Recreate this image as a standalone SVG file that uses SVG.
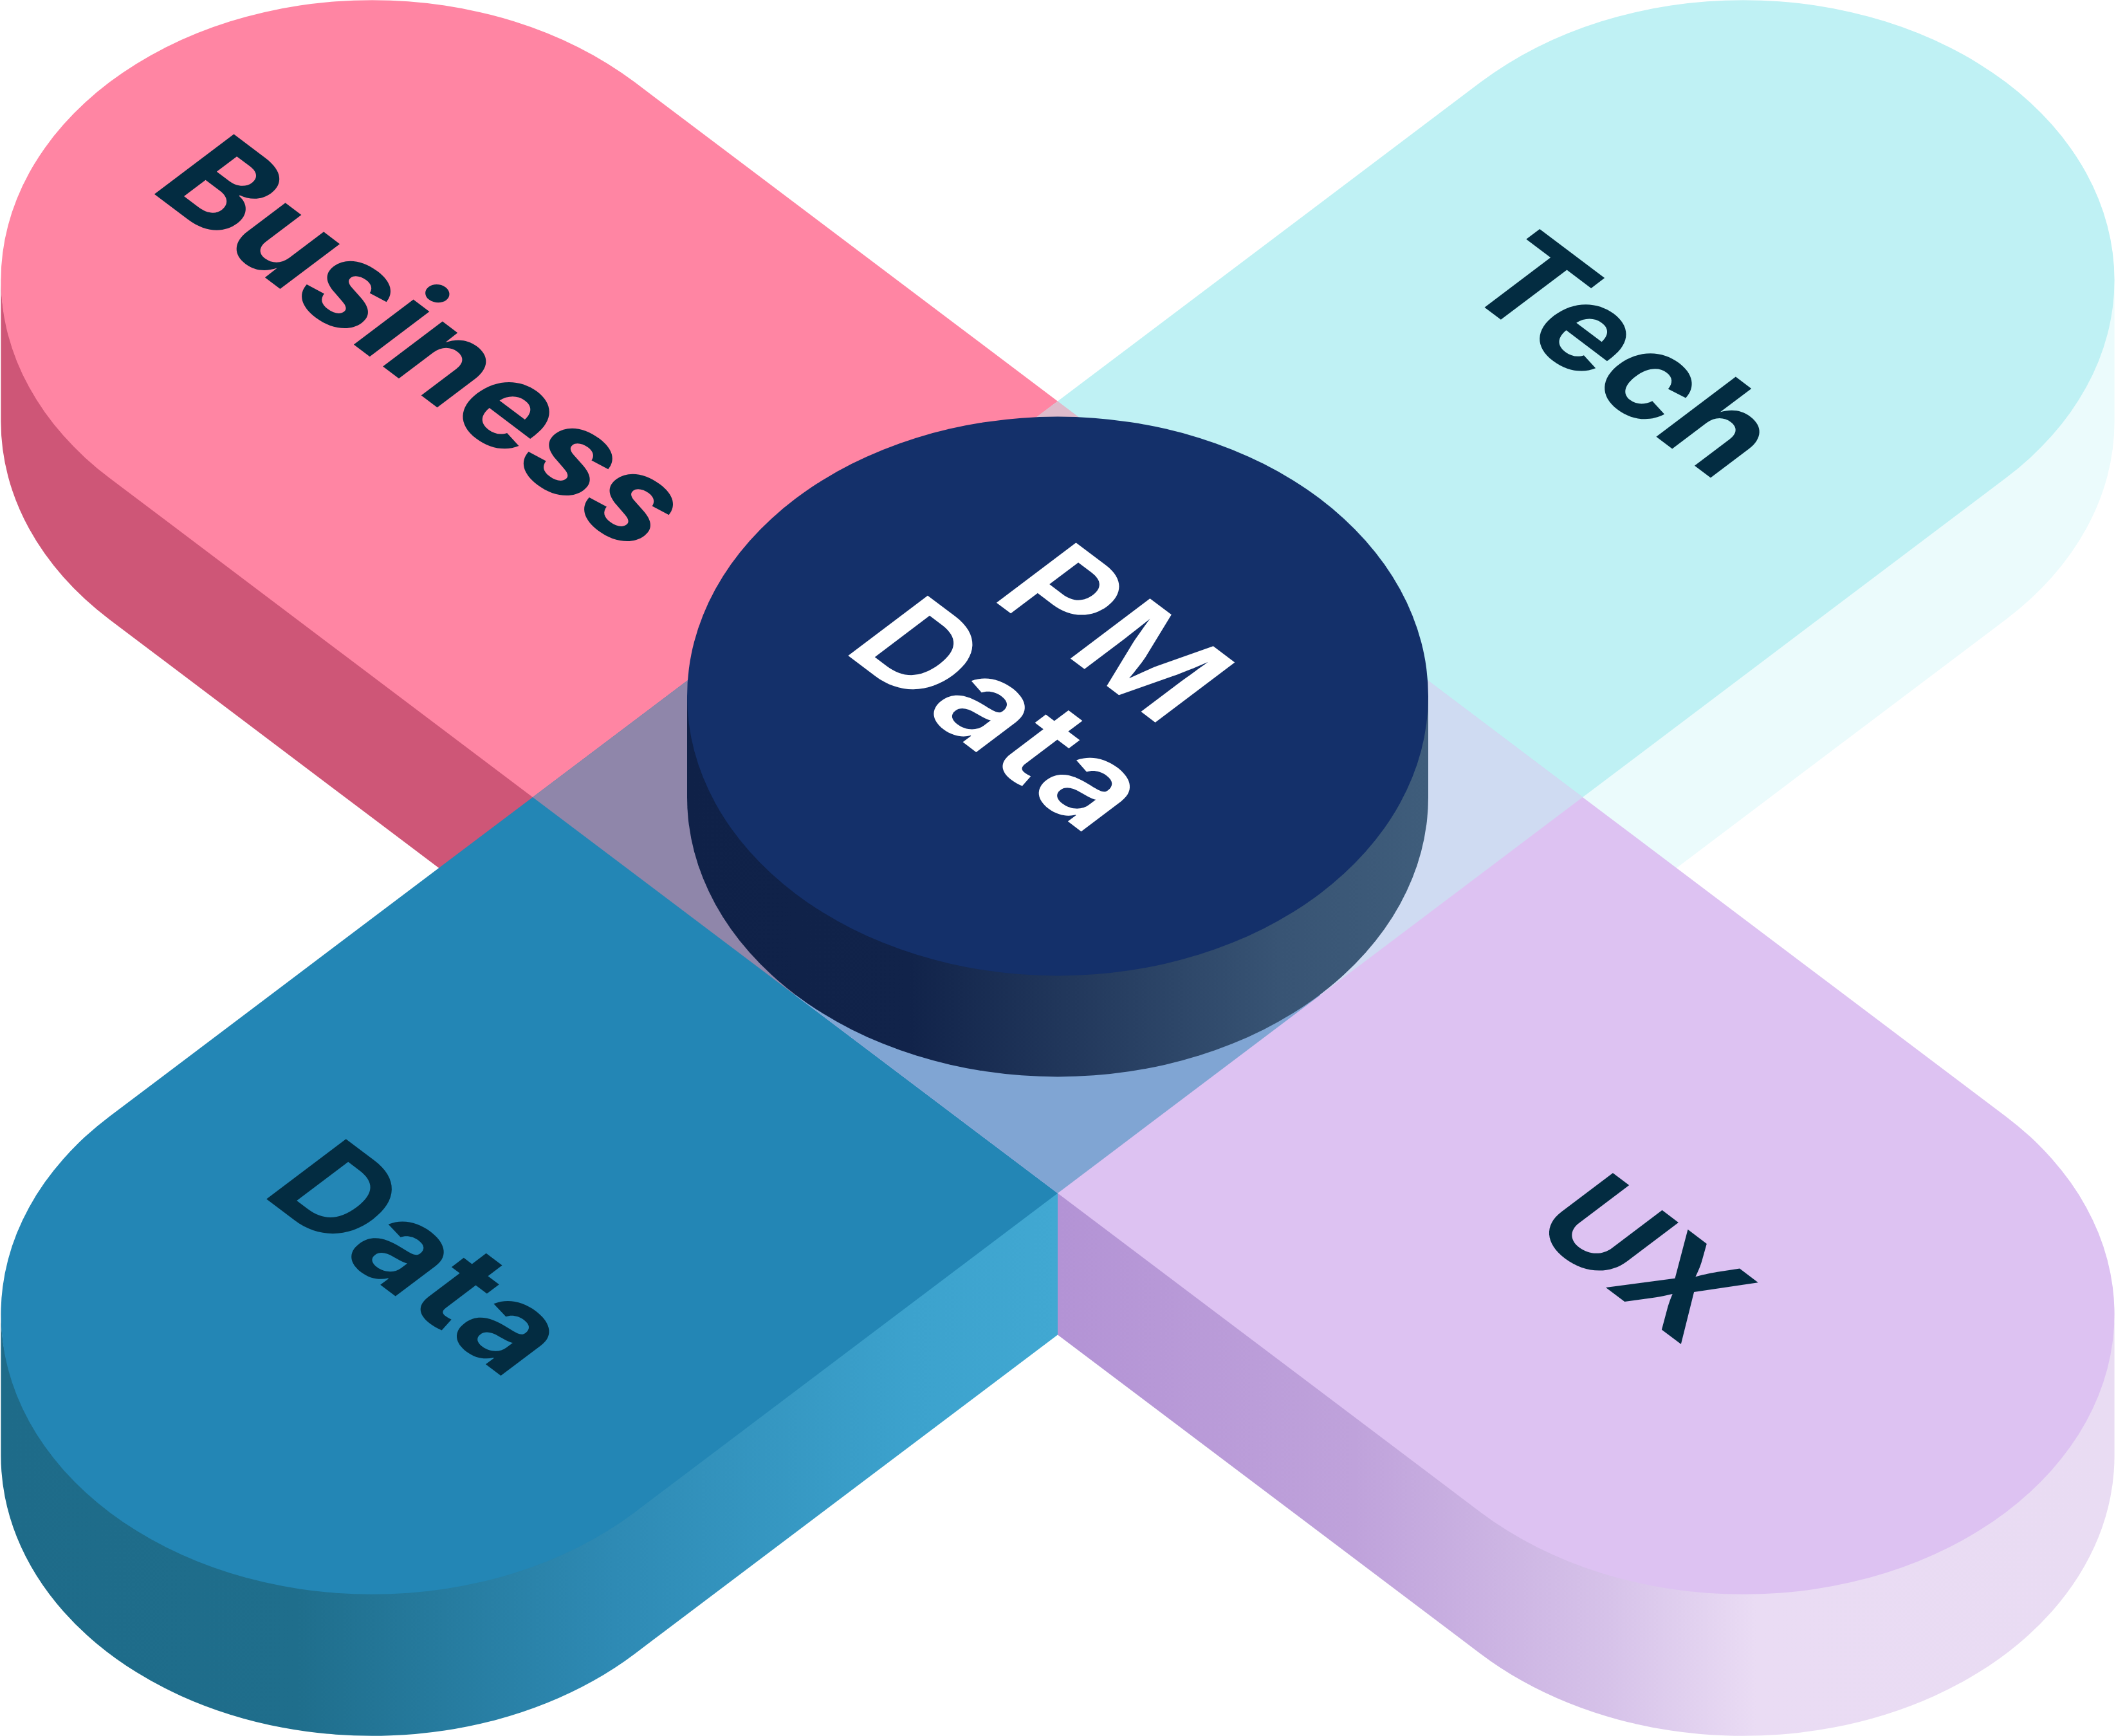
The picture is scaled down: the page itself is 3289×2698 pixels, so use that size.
<svg xmlns="http://www.w3.org/2000/svg" width="3289" height="2698" viewBox="0 0 3289 2698">
  <defs>
    <linearGradient id="gData" gradientUnits="userSpaceOnUse" x1="0" y1="0" x2="1644" y2="0">
      <stop offset="0" stop-color="#1E6B89"/>
      <stop offset="0.28" stop-color="#1F6E8C"/>
      <stop offset="0.58" stop-color="#2E8AB4"/>
      <stop offset="0.86" stop-color="#3CA2CD"/>
      <stop offset="1" stop-color="#41A8D2"/>
    </linearGradient>
    <linearGradient id="gUX" gradientUnits="userSpaceOnUse" x1="1644" y1="0" x2="3289" y2="0">
      <stop offset="0" stop-color="#B393D5"/>
      <stop offset="0.28" stop-color="#BFA2DB"/>
      <stop offset="0.52" stop-color="#D6C2E9"/>
      <stop offset="0.66" stop-color="#EADCF4"/>
      <stop offset="1" stop-color="#E9DCF3"/>
    </linearGradient>
    <linearGradient id="gCyl" gradientUnits="userSpaceOnUse" x1="1068" y1="0" x2="2220" y2="0">
      <stop offset="0" stop-color="#0F2148"/>
      <stop offset="0.3" stop-color="#11234A"/>
      <stop offset="0.52" stop-color="#22385C"/>
      <stop offset="0.8" stop-color="#385474"/>
      <stop offset="1" stop-color="#3F5D7B"/>
    </linearGradient>
  </defs>
  <style>
    .lbl { font-family: Inter, Roboto, "Liberation Sans", sans-serif; font-weight: 700; font-size: 240px; fill: #032C41; }
    .wlbl { font-family: Inter, Roboto, "Liberation Sans", sans-serif; font-weight: 600; font-size: 240px; fill: #FFFFFF; }
  </style>

  <g id="business">
    <path d="M1.4,431.3 A577,435.2 0 0 0 170.4,739 L828,1235 L828,1459 L170.4,963 A577,435.2 0 0 1 1.4,655.3 Z" fill="#CE5677"/>
    <g transform="matrix(0.7071 0.5333 -0.7071 0.5333 1644 1239)">
      <path d="M-1507,-577 L0,-577 L0,577 L-1507,577 A577,577 0 0 1 -1507,-577 Z" fill="#FF85A3"/>
      <text class="lbl" x="-1357" y="114" text-anchor="middle" textLength="1061">Business</text>
    </g>
  </g>

  <g id="tech">
    <path d="M3286.6,431.3 A577,435.2 0 0 1 3117.6,739 L2460,1235 L2460,1459 L3117.6,963 A577,435.2 0 0 0 3286.6,655.3 Z" fill="#EBFBFC"/>
    <g transform="matrix(0.7071 0.5333 -0.7071 0.5333 1644 1239)">
      <path d="M577,0 L577,-1507 A577,577 0 0 0 -577,-1507 L-577,0 Z" fill="#BFF1F4"/>
      <text class="lbl" x="-20" y="-1183" text-anchor="middle" textLength="574">Tech</text>
    </g>
  </g>

  <g id="data">
    <path d="M1.4,2038.7 A577,435.2 0 0 0 986.4,2346.4 L1644,1850.4 L1644,2074.4 L986.4,2570.4 A577,435.2 0 0 1 1.4,2262.7 Z" fill="url(#gData)"/>
    <g transform="matrix(0.7071 0.5333 -0.7071 0.5333 1644 1239)">
      <path d="M-577,0 L-577,1507 A577,577 0 0 0 577,1507 L577,0 Z" fill="#2386B5"/>
      <text class="lbl" x="-27" y="1455" text-anchor="middle" textLength="546">Data</text>
    </g>
  </g>

  <g id="ux">
    <path d="M1644,1850.4 L2301.6,2346.4 A577,435.2 0 0 0 3286.6,2038.7 L3286.6,2262.7 A577,435.2 0 0 1 2301.6,2570.4 L1644,2074.4 Z" fill="url(#gUX)"/>
    <g transform="matrix(0.7071 0.5333 -0.7071 0.5333 1644 1239)">
      <path d="M0,-577 L1507,-577 A577,577 0 0 1 1507,577 L0,577 Z" fill="#DDC2F2"/>
      <text class="lbl" x="1315" y="112" text-anchor="middle" textLength="346">UX</text>
    </g>
  </g>

  <g id="overlap" transform="matrix(0.7071 0.5333 -0.7071 0.5333 1644 1239)">
    <path d="M0,0 L-577,0 L-577,-577 L0,-577 Z" fill="#DEBBCB"/>
    <path d="M0,0 L-577,0 L-577,577 L0,577 Z" fill="#8F86AA"/>
    <path d="M0,0 L577,0 L577,577 L0,577 Z" fill="#80A5D3"/>
    <path d="M0,0 L577,0 L577,-577 L0,-577 Z" fill="#CFDBF2"/>
  </g>

  <g id="pm-data">
    <path d="M1068,1082 L1068,1239 A576,434.4 0 0 0 2220,1239 L2220,1082 Z" fill="url(#gCyl)"/>
    <ellipse cx="1644" cy="1082" rx="576" ry="434.4" fill="#14306A"/>
    <g transform="matrix(0.7071 0.5333 -0.7071 0.5333 1644 1082)">
      <text class="wlbl" x="-29" y="-69" text-anchor="middle" textLength="384">PM</text>
      <text class="wlbl" x="-34" y="171" text-anchor="middle" textLength="546">Data</text>
    </g>
  </g>

  <g id="connectors"></g>
</svg>
